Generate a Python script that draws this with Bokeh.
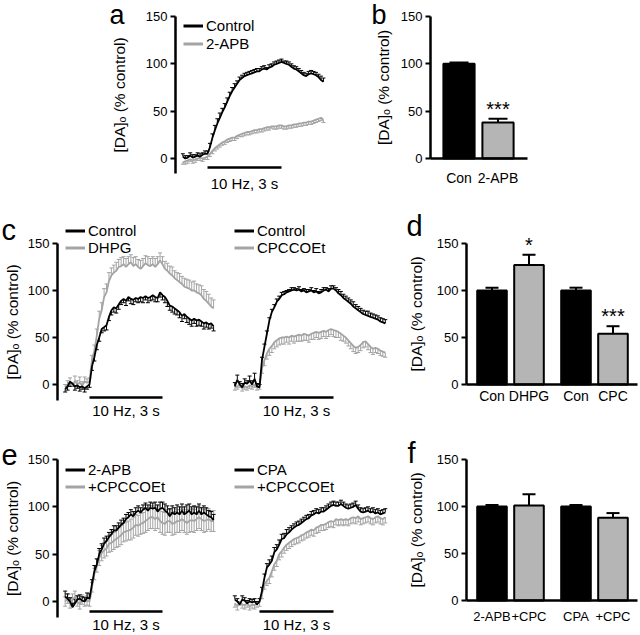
import numpy as np
from bokeh.plotting import figure
from bokeh.layouts import row, column
from bokeh.models import (Range1d, Whisker, TeeHead, Legend, LegendItem, Label,
                          FixedTicker, ColumnDataSource)
from bokeh.core.properties import value
from bokeh.embed import file_html
from bokeh.resources import INLINE

# ---------------- data ----------------
T_START = -1.0          # s, time of first sample
T_STEP = 0.1            # s, sampling interval
STIM = [0.0, 3.0]       # s, stimulus train
STIM_TEXT = "10 Hz, 3 s"
Y_TICKS = [0, 50, 100, 150]
Y_LABEL = "[DA]ₒ (% control)"

# panel a
A_NAMES = ["Control", "2-APB"]
A_CTRL = [2, 0, 1, 3, 1, 2, 3, 2, 4, 5,
          5, 12, 22, 30, 37, 43, 49, 54, 60, 66,
          71, 75, 79, 83, 85, 87, 88, 89, 90, 91,
          92, 92, 94, 95, 94, 96, 97, 99, 100, 101,
          102, 101, 100, 99, 97, 95, 94, 92, 90, 88,
          87, 89, 90, 89, 88, 86, 83, 81]
A_CTRL_E = [3, 3, 2, 3, 3, 2, 3, 3, 2, 3,
            3, 4, 4, 5, 5, 5, 4, 4, 4, 4,
            4, 4, 3, 3, 3, 3, 3, 3, 3, 3,
            3, 3, 3, 3, 2, 3, 3, 3, 3, 3,
            3, 2, 3, 3, 3, 3, 3, 3, 3, 3,
            3, 3, 3, 3, 3, 3, 4, 4]
A_APB = [-4, -3, -2, -1, -2, -1, 0, 1, 0, 1,
         2, 5, 8, 11, 13, 15, 17, 18, 20, 21,
         22, 22, 24, 25, 26, 27, 28, 28, 29, 30,
         30, 31, 31, 32, 33, 33, 34, 34, 34, 35,
         35, 34, 34, 35, 35, 36, 36, 37, 37, 38,
         38, 39, 39, 40, 41, 42, 43, 41]
A_APB_E = [2, 3, 3, 2, 3, 3, 2, 3, 3, 2,
           3, 3, 3, 3, 3, 3, 3, 3, 3, 3,
           3, 3, 3, 2, 3, 3, 3, 3, 3, 3,
           3, 3, 3, 3, 3, 3, 2, 3, 3, 3,
           3, 3, 3, 3, 3, 3, 3, 3, 3, 3,
           3, 3, 3, 3, 3, 3, 3, 3]

# panel b
B_CATS = ["Con", "2-APB"]
B_VALS = [100, 38]
B_ERR = [1.5, 4]
B_SIG = ["", "***"]

# panel c, left
C1_NAMES = ["Control", "DHPG"]
C1_CTRL = [-5, -2, 3, 1, -2, -1, -3, -2, -4, -2,
           0, 19, 29, 42, 50, 59, 61, 63, 72, 79,
           82, 81, 85, 89, 91, 89, 93, 91, 90, 92,
           91, 93, 92, 94, 92, 93, 95, 93, 92, 98,
           95, 93, 89, 84, 83, 81, 79, 77, 73, 75,
           72, 70, 68, 70, 68, 69, 67, 65, 66, 64,
           65, 62]
C1_CTRL_E = [3, 4, 5, 3, 4, 3, 4, 3, 4, 3,
             3, 4, 4, 5, 4, 4, 4, 5, 4, 5,
             5, 5, 5, 4, 4, 5, 4, 5, 5, 4,
             4, 5, 5, 4, 5, 4, 5, 5, 4, 5,
             5, 6, 6, 5, 6, 6, 5, 6, 6, 5,
             6, 6, 6, 5, 6, 6, 5, 6, 5, 5,
             5, 5]
C1_DHPG = [-3, 0, 3, -2, 4, 0, 2, -1, 3, 2,
           3, 26, 36, 52, 70, 79, 93, 98, 110, 116,
           119, 121, 125, 126, 128, 125, 128, 130, 126, 128,
           125, 123, 126, 129, 127, 126, 128, 125, 128, 132,
           128, 123, 121, 118, 116, 113, 111, 109, 107, 104,
           103, 102, 100, 100, 98, 97, 95, 91, 89, 86,
           83, 81]
C1_DHPG_E = [3, 4, 4, 3, 5, 4, 6, 4, 5, 4,
             4, 5, 6, 7, 8, 8, 9, 9, 9, 8,
             8, 9, 8, 9, 8, 9, 8, 8, 9, 8,
             8, 9, 8, 8, 9, 8, 8, 9, 8, 8,
             8, 8, 8, 8, 9, 8, 8, 9, 8, 9,
             9, 9, 9, 10, 9, 9, 10, 10, 10, 10,
             9, 9]

# panel c, right
C2_NAMES = ["Control", "CPCCOEt"]
C2_CTRL = [-2, 5, 0, -3, 2, 1, 4, 0, 6, -2,
           -3, 26, 40, 54, 68, 77, 82, 88, 91, 95,
           96, 98, 99, 100, 101, 100, 101, 99, 100, 98,
           99, 100, 98, 99, 97, 98, 100, 101, 99, 102,
           102, 100, 97, 95, 92, 90, 88, 86, 83, 81,
           79, 77, 75, 74, 73, 72, 71, 70, 69, 67,
           66, 65]
C2_CTRL_E = [4, 5, 3, 4, 4, 3, 5, 4, 6, 3,
             3, 3, 3, 3, 3, 3, 3, 3, 3, 3,
             3, 2, 2, 3, 2, 2, 3, 2, 2, 3,
             2, 3, 2, 3, 2, 3, 3, 2, 3, 3,
             3, 3, 4, 4, 4, 4, 4, 4, 5, 4,
             4, 4, 4, 4, 5, 4, 4, 4, 4, 4,
             4, 4]
C2_CPC = [-3, -2, 0, -4, -2, -3, -1, -2, 0, -3,
          -2, 17, 26, 33, 38, 41, 45, 47, 49, 50,
          50, 51, 50, 52, 51, 52, 53, 52, 54, 53,
          52, 54, 55, 56, 55, 56, 57, 56, 58, 59,
          58, 57, 56, 54, 52, 50, 47, 44, 41, 39,
          40, 42, 45, 46, 43, 40, 38, 39, 38, 36,
          35, 34]
C2_CPC_E = [3, 3, 3, 3, 3, 3, 3, 3, 3, 3,
            3, 5, 6, 6, 7, 7, 7, 7, 7, 7,
            7, 6, 7, 6, 7, 6, 7, 6, 7, 6,
            7, 6, 7, 6, 7, 7, 6, 7, 7, 6,
            7, 7, 6, 7, 6, 6, 6, 6, 6, 6,
            6, 6, 6, 6, 6, 6, 6, 5, 5, 5,
            5, 5]

# panel d
D_CATS = ["Con", "DHPG", "Con", "CPC"]
D_VALS = [100, 127, 100, 54]
D_ERR = [3, 11, 3, 8]
D_SIG = ["", "*", "", "***"]

# panel e, left
E1_NAMES = ["2-APB", "+CPCCOEt"]
E1_APB = [5, 3, 0, -6, -2, 2, 3, 1, 0, 4,
          3, 18, 32, 39, 50, 55, 61, 64, 68, 71,
          75, 75, 78, 81, 83, 87, 89, 92, 90, 94,
          96, 94, 97, 99, 96, 99, 98, 99, 95, 98,
          99, 96, 94, 90, 94, 92, 94, 92, 96, 92,
          94, 96, 92, 94, 92, 96, 92, 94, 92, 90,
          89, 86]
E1_APB_E = [6, 5, 4, 4, 4, 4, 4, 4, 4, 5,
            5, 5, 6, 6, 6, 6, 6, 5, 5, 5,
            5, 5, 5, 5, 5, 5, 5, 5, 5, 5,
            5, 5, 5, 5, 6, 6, 6, 6, 7, 7,
            6, 7, 7, 8, 7, 7, 8, 8, 7, 8,
            8, 7, 8, 7, 8, 7, 7, 7, 7, 6,
            6, 6]
E1_CPC = [0, 3, -2, 2, 5, 0, -3, 2, 0, 1,
          0, 15, 29, 38, 46, 51, 54, 56, 61, 62,
          64, 66, 68, 70, 73, 74, 75, 76, 78, 81,
          80, 82, 83, 85, 87, 89, 89, 87, 89, 85,
          83, 82, 85, 85, 82, 83, 85, 85, 87, 85,
          83, 85, 86, 85, 87, 89, 87, 85, 86, 87,
          85, 85]
E1_CPC_E = [5, 5, 5, 6, 6, 5, 5, 5, 5, 5,
            5, 5, 6, 7, 8, 8, 8, 8, 9, 9,
            9, 9, 10, 10, 10, 10, 10, 11, 11, 11,
            11, 11, 11, 12, 12, 12, 12, 12, 12, 12,
            12, 12, 12, 12, 12, 12, 12, 12, 12, 12,
            12, 12, 12, 12, 12, 12, 12, 12, 12, 11,
            11, 11]

# panel e, right
E2_NAMES = ["CPA", "+CPCCOEt"]
E2_CPA = [2, 0, -3, 2, 1, -2, 0, -1, 0, -3,
          0, 11, 25, 36, 39, 43, 52, 55, 60, 66,
          67, 71, 73, 76, 78, 80, 81, 83, 85, 87,
          88, 91, 92, 94, 93, 95, 95, 97, 99, 101,
          102, 101, 101, 103, 101, 99, 98, 99, 100, 102,
          98, 95, 94, 95, 96, 94, 95, 93, 94, 92,
          93, 94]
E2_CPA_E = [4, 3, 3, 4, 3, 3, 3, 3, 3, 3,
            3, 4, 4, 4, 5, 5, 5, 5, 5, 5,
            5, 5, 5, 4, 4, 4, 4, 4, 4, 4,
            4, 4, 4, 4, 4, 4, 4, 4, 4, 4,
            4, 4, 4, 4, 4, 4, 4, 4, 4, 4,
            4, 4, 4, 4, 4, 4, 4, 4, 4, 4,
            4, 4]
E2_CPC = [-2, -5, 0, -3, -4, -2, -5, -3, -4, -2,
          -1, 8, 18, 22, 25, 32, 39, 43, 50, 53,
          57, 60, 62, 64, 66, 67, 68, 70, 71, 73,
          74, 76, 75, 78, 79, 81, 81, 82, 84, 85,
          84, 87, 86, 87, 86, 87, 86, 88, 89, 88,
          90, 87, 88, 89, 90, 88, 87, 89, 90, 88,
          87, 89]
E2_CPC_E = [4, 4, 4, 4, 4, 4, 4, 4, 4, 4,
            4, 5, 5, 5, 6, 6, 6, 6, 6, 6,
            6, 6, 6, 6, 6, 6, 6, 6, 6, 6,
            6, 6, 6, 6, 6, 6, 6, 6, 6, 6,
            6, 6, 6, 6, 6, 6, 6, 6, 6, 6,
            6, 6, 6, 6, 6, 6, 6, 6, 6, 6,
            6, 6]

# panel f
F_CATS = ["2-APB", "+CPC", "CPA", "+CPC"]
F_VALS = [100, 101, 100, 88]
F_ERR = [1.5, 12, 1.5, 5]
F_SIG = ["", "", "", ""]

# ---------------- style ----------------
FONT = "Liberation Sans"
TRACE_GRAY = "#a4a4a4"
BAR_GRAY = "#b5b5b5"
GROUP_GAP = 0.27
BAR_W = 0.8


class Panel:
    """A figure whose frame fills its whole canvas; page-pixel anchors set the scales."""

    def __init__(self, canvas, xa, ya, xaxis=False, yaxis=False):
        cl, ct, w, h = canvas
        L, R, T, B = cl, cl + w, ct, ct + h
        (px0, v0), (px1, v1) = xa
        (py0, u0), (py1, u1) = ya
        self.sx = (v1 - v0) / (px1 - px0)
        self.sy = (u1 - u0) / (py0 - py1)
        self.px0, self.v0, self.py0, self.u0 = px0, v0, py0, u0
        self.L, self.B = L, B
        self.p = figure(width=w, height=h,
                        x_range=Range1d(self.fx(L), self.fx(R)),
                        y_range=Range1d(self.fy(B), self.fy(T)),
                        output_backend="svg", toolbar_location=None,
                        x_axis_location="below" if xaxis else None,
                        y_axis_location="left" if yaxis else None,
                        min_border_left=0, min_border_right=0,
                        min_border_top=0, min_border_bottom=0)
        p = self.p
        p.outline_line_color = None
        p.background_fill_color = "white"
        p.border_fill_color = "white"
        for g in p.grid:
            g.visible = False

    def fx(self, px):
        return self.v0 + (px - self.px0) * self.sx

    def fy(self, py):
        return self.u0 + (self.py0 - py) * self.sy


def style_y(pn, axis_px, bottom_px, standoff):
    ax = pn.p.yaxis[0]
    ax.fixed_location = pn.fx(axis_px)
    ax.ticker = FixedTicker(ticks=Y_TICKS)
    ax.bounds = (pn.fy(bottom_px), Y_TICKS[-1])
    ax.axis_line_width = 2.5
    ax.axis_line_color = "black"
    ax.major_tick_line_width = 2
    ax.major_tick_out = 5
    ax.major_tick_in = 0
    ax.minor_tick_line_color = None
    ax.major_label_standoff = 3
    ax.major_label_text_font = FONT
    ax.major_label_text_font_size = "13px"
    ax.major_label_text_color = "black"
    ax.axis_label = Y_LABEL
    ax.axis_label_text_font = FONT
    ax.axis_label_text_font_size = "15.5px"
    ax.axis_label_text_font_style = "normal"
    ax.axis_label_text_color = "black"
    ax.axis_label_standoff = standoff


def style_x_bars(pn, xs, cats, left_px, right_px, standoff, size):
    ax = pn.p.xaxis[0]
    ax.fixed_location = 0
    ax.bounds = (pn.fx(left_px), pn.fx(right_px))
    ax.ticker = FixedTicker(ticks=xs)
    ov = {}
    for x, c in zip(xs, cats):
        ov[x] = c
        ov[str(x)] = c
    ax.major_label_overrides = ov
    ax.axis_line_width = 2.5
    ax.axis_line_color = "black"
    ax.major_tick_line_color = None
    ax.minor_tick_line_color = None
    ax.major_label_standoff = standoff
    ax.major_label_text_font = FONT
    ax.major_label_text_font_size = size
    ax.major_label_text_color = "black"


def add_trace(pn, vals, errs, color, direction):
    v = np.asarray(vals, float)
    e = np.asarray(errs, float)
    t = T_START + T_STEP * np.arange(len(v))
    up = v + e if direction in ("up", "both") else v
    lo = v - e if direction in ("down", "both") else v
    src = ColumnDataSource(dict(t=t, y=v, up=up, lo=lo))
    head = lambda: TeeHead(size=4, line_color=color, line_width=1)
    pn.p.add_layout(Whisker(source=src, base="t", upper="up", lower="lo",
                            line_color=color, line_width=1,
                            upper_head=head() if direction in ("up", "both") else None,
                            lower_head=head() if direction in ("down", "both") else None))
    pn.p.line("t", "y", source=src, line_color=color, line_width=1.8)


def add_legend(pn, names, colors, glyph_left, first_row, rowh=17, spacing=1):
    p = pn.p
    rends = [p.line(x=[np.nan], y=[np.nan], line_color=c, line_width=3) for c in colors]
    n = len(names)
    box_h = n * rowh + (n - 1) * spacing
    top = first_row - rowh / 2
    leg = Legend(items=[LegendItem(label=nm, renderers=[r]) for nm, r in zip(names, rends)],
                 location=(glyph_left - pn.L, pn.B - (top + box_h)),
                 glyph_width=20, glyph_height=rowh, label_height=rowh,
                 label_standoff=3, spacing=spacing, padding=0, margin=0,
                 border_line_color=None, background_fill_alpha=0,
                 label_text_font=FONT, label_text_font_size="15px",
                 label_text_color="black")
    p.add_layout(leg)


def add_stim(pn, bar_px, text_gap):
    y = pn.fy(bar_px)
    pn.p.segment(x0=[STIM[0]], x1=[STIM[1]], y0=[y], y1=[y],
                 line_color="black", line_width=2.5)
    pn.p.add_layout(Label(x=(STIM[0] + STIM[1]) / 2, y=y, y_offset=-text_gap,
                          text=STIM_TEXT, text_align="center", text_baseline="middle",
                          text_font=FONT, text_font_size="15px", text_color="black"))


def add_letter(pn, letter, px, py, size="29px"):
    # py: vertical centre of the letter's em box, in page pixels
    pn.p.add_layout(Label(x=pn.fx(px), y=pn.fy(py), text=letter, text_align="left",
                          text_baseline="middle", text_font=FONT,
                          text_font_size=size, text_color="black"))


def add_bars(pn, xs, vals, errs, sigs, head):
    v = np.asarray(vals, float)
    e = np.asarray(errs, float)
    colors = ["black" if i % 2 == 0 else BAR_GRAY for i in range(len(v))]
    src = ColumnDataSource(dict(x=xs, top=v, up=v + e, color=colors, sig=sigs))
    pn.p.add_layout(Whisker(source=src, base="x", upper="up", lower="top",
                            line_color="black", line_width=2,
                            upper_head=TeeHead(size=head, line_color="black", line_width=2),
                            lower_head=None))
    pn.p.vbar(x="x", top="top", bottom=0, width=BAR_W, fill_color="color",
              line_color="black", line_width=2, source=src)
    pn.p.text(x="x", y="up", text="sig", source=src, text_align="center",
              text_baseline="bottom", y_offset=1, text_font=value(FONT),
              text_font_size="20px", text_color="black")


def bar_positions(n):
    return [round(i + GROUP_GAP * (i // 2), 3) for i in range(n)]


# ---------------- row 1 ----------------
pa = Panel((0, 0, 370, 200), ((207, STIM[0]), (281, STIM[1])), ((158, 0), (16, 150)), yaxis=True)
style_y(pa, 175, 173, 15)
add_trace(pa, A_APB, A_APB_E, TRACE_GRAY, "down")
add_trace(pa, A_CTRL, A_CTRL_E, "black", "up")
add_legend(pa, A_NAMES, ["black", TRACE_GRAY], 183, 25, rowh=17, spacing=1)
add_stim(pa, 167, 16)
add_letter(pa, "a", 109, 14, "27px")

xb = bar_positions(len(B_CATS))
pb = Panel((370, 0, 268, 200), ((458.5, 0), (497.5, 1)), ((158, 0), (16, 150)),
           xaxis=True, yaxis=True)
style_y(pb, 430, 158, 6)
style_x_bars(pb, xb, B_CATS, 430, 527, 5, "14px")
add_bars(pb, xb, B_VALS, B_ERR, B_SIG, 19)
add_letter(pb, "b", 371, 14, "27px")

# ---------------- row 2 ----------------
pc1 = Panel((0, 200, 220, 220), ((89, STIM[0]), (162, STIM[1])), ((384, 0), (243, 150)), yaxis=True)
style_y(pc1, 57, 400, 4)
add_trace(pc1, C1_DHPG, C1_DHPG_E, TRACE_GRAY, "up")
add_trace(pc1, C1_CTRL, C1_CTRL_E, "black", "down")
add_legend(pc1, C1_NAMES, ["black", TRACE_GRAY], 65, 230, rowh=17, spacing=0)
add_stim(pc1, 397, 13)
add_letter(pc1, "c", 1, 229)

pc2 = Panel((220, 200, 175, 220), ((259, STIM[0]), (333, STIM[1])), ((384, 0), (243, 150)))
add_trace(pc2, C2_CPC, C2_CPC_E, TRACE_GRAY, "down")
add_trace(pc2, C2_CTRL, C2_CTRL_E, "black", "up")
add_legend(pc2, C2_NAMES, ["black", TRACE_GRAY], 234, 230, rowh=17, spacing=0)
add_stim(pc2, 397, 13)

xd = bar_positions(len(D_CATS))
pd = Panel((395, 200, 243, 220), ((491.5, 0), (528.5, 1)), ((384, 0), (243, 150)),
           xaxis=True, yaxis=True)
style_y(pd, 466, 384, 9)
style_x_bars(pd, xd, D_CATS, 466, 637, -3, "14px")
add_bars(pd, xd, D_VALS, D_ERR, D_SIG, 13)
add_letter(pd, "d", 406, 225)

# ---------------- row 3 ----------------
pe1 = Panel((0, 420, 220, 212), ((89, STIM[0]), (162, STIM[1])), ((601, 0), (459, 150)), yaxis=True)
style_y(pe1, 57, 617, 4)
add_trace(pe1, E1_CPC, E1_CPC_E, TRACE_GRAY, "both")
add_trace(pe1, E1_APB, E1_APB_E, "black", "up")
add_legend(pe1, E1_NAMES, ["black", TRACE_GRAY], 65, 469, rowh=17, spacing=0)
add_stim(pe1, 611, 13)
add_letter(pe1, "e", 1, 454)

pe2 = Panel((220, 420, 175, 212), ((259, STIM[0]), (333, STIM[1])), ((601, 0), (459, 150)))
add_trace(pe2, E2_CPC, E2_CPC_E, TRACE_GRAY, "down")
add_trace(pe2, E2_CPA, E2_CPA_E, "black", "up")
add_legend(pe2, E2_NAMES, ["black", TRACE_GRAY], 234, 469, rowh=17, spacing=0)
add_stim(pe2, 611, 13)

xf = bar_positions(len(F_CATS))
pf = Panel((395, 420, 243, 212), ((491.5, 0), (528.5, 1)), ((600, 0), (459, 150)),
           xaxis=True, yaxis=True)
style_y(pf, 466, 600, 9)
style_x_bars(pf, xf, F_CATS, 466, 637, 2, "13px")
add_bars(pf, xf, F_VALS, F_ERR, F_SIG, 13)
add_letter(pf, "f", 407, 452)

layout = column(row(pa.p, pb.p), row(pc1.p, pc2.p, pd.p), row(pe1.p, pe2.p, pf.p))
open("out.html", "w").write(file_html(layout, INLINE))
